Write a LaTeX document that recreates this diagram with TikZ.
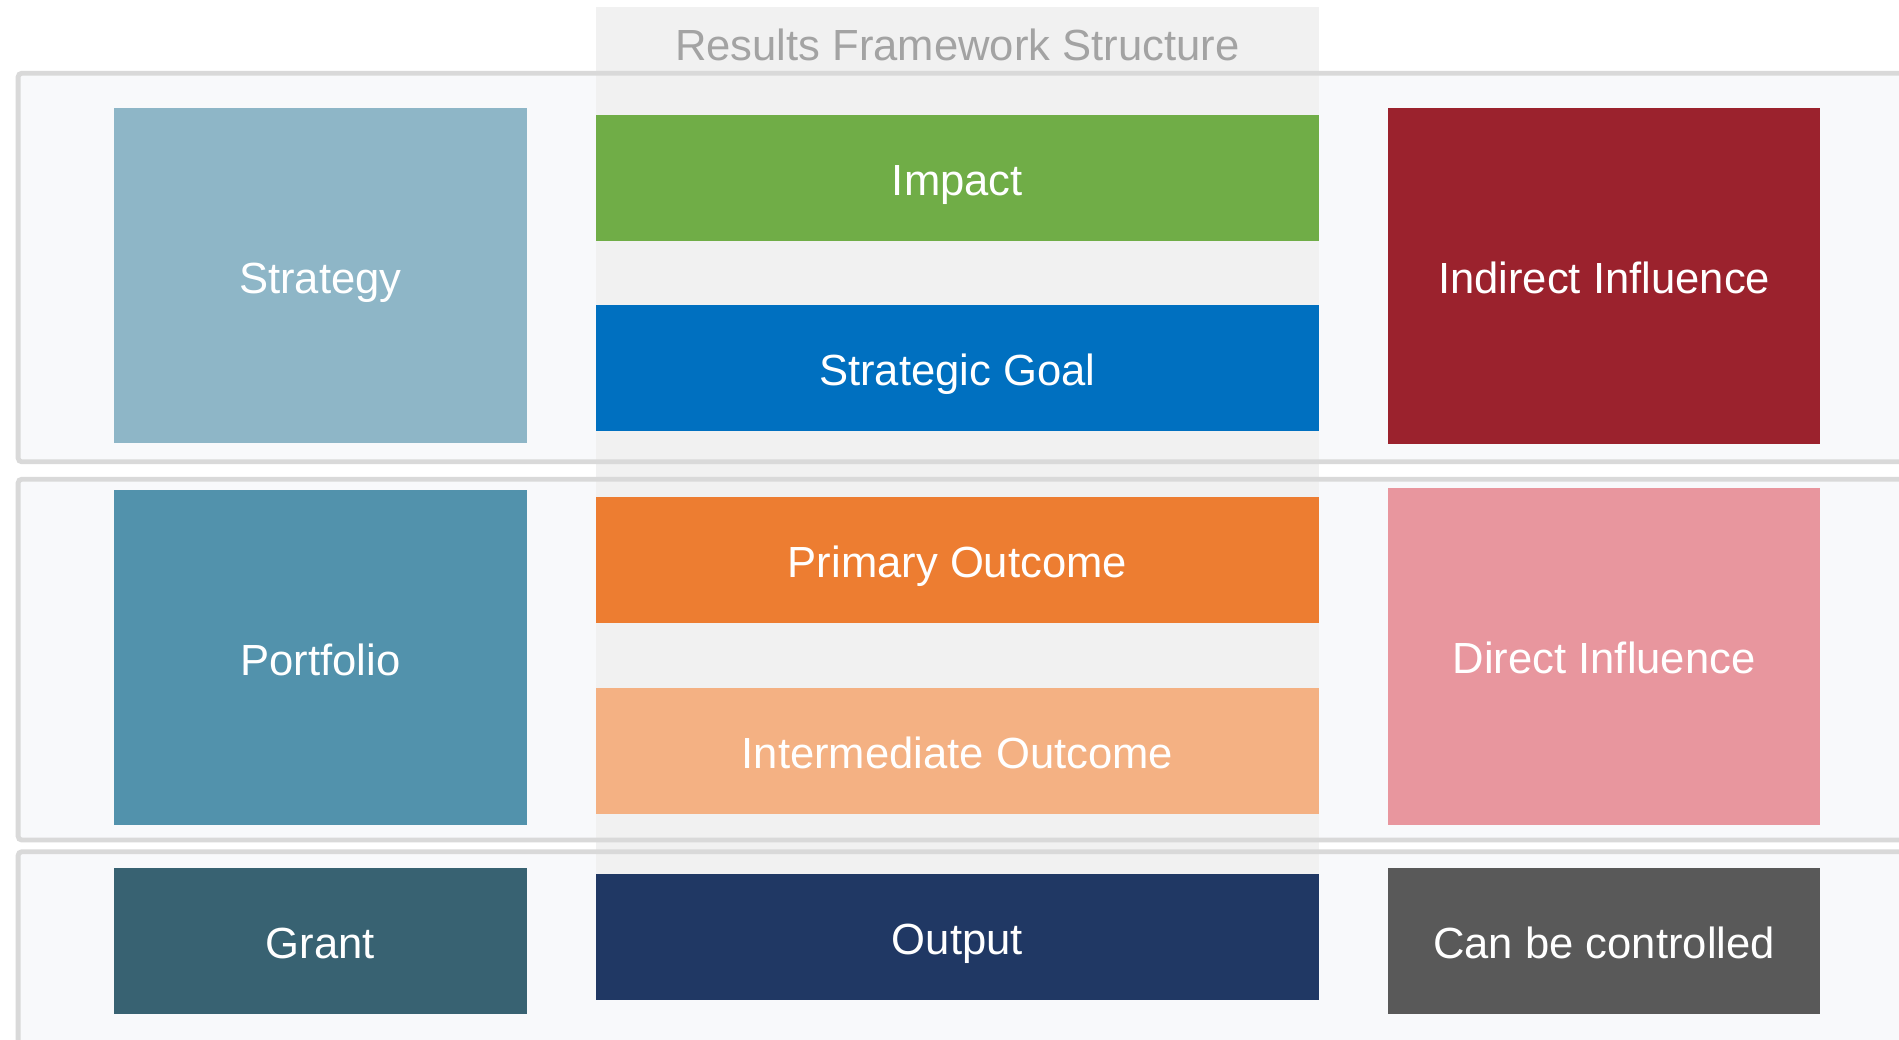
\documentclass[tikz,border=0pt]{standalone}
\usepackage{fontspec}
\setmainfont{Liberation Sans}
\definecolor{bandfill}{HTML}{F8F9FB}
\definecolor{bandline}{HTML}{D9D9D9}
\definecolor{colfill}{HTML}{F1F1F1}
\definecolor{titlegray}{HTML}{A3A3A3}
\definecolor{cStrategy}{HTML}{8EB6C7}
\definecolor{cPortfolio}{HTML}{5292AC}
\definecolor{cGrant}{HTML}{386272}
\definecolor{cImpact}{HTML}{70AD47}
\definecolor{cGoal}{HTML}{0070C0}
\definecolor{cPrimary}{HTML}{ED7D31}
\definecolor{cInter}{HTML}{F4B183}
\definecolor{cOutput}{HTML}{203864}
\definecolor{cIndirect}{HTML}{9B222D}
\definecolor{cDirect}{HTML}{E8969E}
\definecolor{cControl}{HTML}{595959}
\tikzset{
  band/.style={fill=bandfill},
  bandborder/.style={draw=bandline, line width=4pt, rounded corners=3pt},
  box/.style={inner sep=0pt, outer sep=0pt, text=white,
    font=\fontsize{36}{43}\selectfont, text height=29pt, text depth=0pt},
  leftbox/.style={box, minimum width=341pt},
  midbox/.style={box, minimum width=597pt, minimum height=104pt},
  rightbox/.style={box, minimum width=357pt},
}
\begin{document}
\begin{tikzpicture}[x=1pt,y=-1pt]
\useasboundingbox (0,0) rectangle (1568,858);
\clip (0,0) rectangle (1568,858);
\fill[white] (0,0) rectangle (1568,858);
% band fills
\fill[band] (15,60.5) rectangle (1590,381.3);
\fill[band] (15,395.7) rectangle (1590,693.6);
\fill[band] (15,703.3) rectangle (1590,880);
% central column
\fill[colfill] (492,5.5) rectangle (1089,722);
% band borders
\draw[bandborder] (15,60.5) rectangle (1590,381.3);
\draw[bandborder] (15,395.7) rectangle (1590,693.6);
\draw[bandborder] (15,703.3) rectangle (1590,880);
% title
\node[box, text=titlegray] (title) at (790.5,35.5) {Results Framework Structure};
% left column
\node[leftbox, fill=cStrategy, minimum height=277pt] (strategy) at (264.5,227.5) {Strategy};
\node[leftbox, fill=cPortfolio, minimum height=276pt] (portfolio) at (264.5,543) {Portfolio};
\node[leftbox, fill=cGrant, minimum height=120pt] (grant) at (264.5,777) {Grant};
% middle column
\node[midbox, fill=cImpact] (impact) at (790.5,147) {Impact};
\node[midbox, fill=cGoal] (goal) at (790.5,304) {Strategic Goal};
\node[midbox, fill=cPrimary] (primary) at (790.5,462) {Primary Outcome};
\node[midbox, fill=cInter] (inter) at (790.5,620) {Intermediate Outcome};
\node[midbox, fill=cOutput] (output) at (790.5,774) {Output};
% right column
\node[rightbox, fill=cIndirect, minimum height=278pt] (indirect) at (1324.5,228) {Indirect Influence};
\node[rightbox, fill=cDirect, minimum height=278pt] (direct) at (1324.5,542) {Direct Influence};
\node[rightbox, fill=cControl, minimum height=120pt] (control) at (1324.5,777) {Can be controlled};
\end{tikzpicture}
\end{document}
